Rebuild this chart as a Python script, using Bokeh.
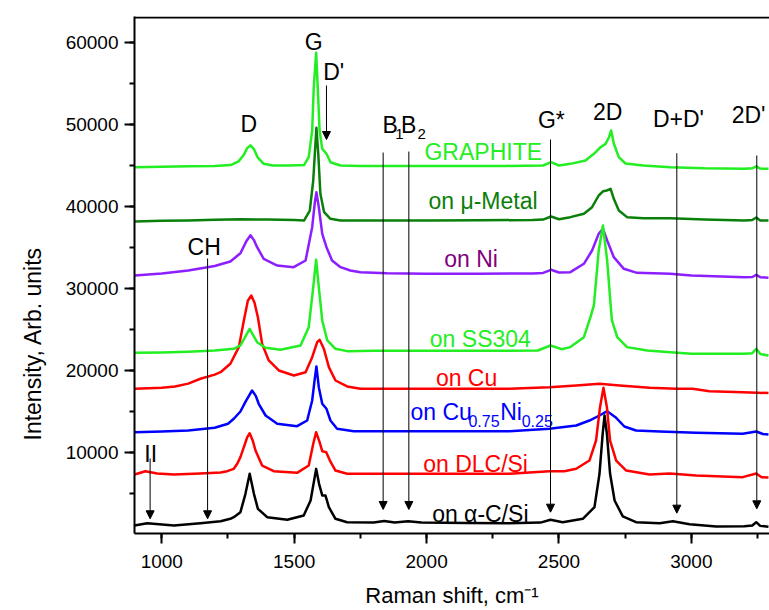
import math
from bokeh.plotting import figure
from bokeh.models import (Range1d, SingleIntervalTicker, Title, Span,
                          Arrow, NormalHead, ColumnDataSource)
from bokeh.core.properties import value
from bokeh.embed import file_html
from bokeh.resources import INLINE

FONT = "Liberation Sans"

# ---------------- data (Raman shift in cm^-1, intensity in arb. units) ----------------
graphite_x = [897, 1000, 1100, 1200, 1260, 1290, 1310, 1322, 1335, 1348, 1362, 1385, 1420, 1480, 1537, 1555, 1568, 1574, 1583, 1589,
              1596, 1606, 1622, 1637, 1675, 1750, 1900, 2100, 2300, 2440, 2470, 2500, 2543, 2600, 2632, 2657, 2676, 2689, 2697, 2707,
              2726, 2751, 2819, 2920, 3050, 3200, 3230, 3245, 3260, 3291]
graphite_y = [44790, 44850, 44900, 44950, 45050, 45500, 46300, 47100, 47450, 47000, 46000, 45200, 45000, 45000, 45050, 46010, 49270, 54550, 58750, 54550,
              49270, 47040, 46430, 45400, 45000, 44950, 44950, 44950, 44950, 45000, 45400, 45000, 45200, 45600, 46430, 47230, 47640, 48450, 49270, 47680,
              46010, 45240, 45000, 44790, 44650, 44600, 44650, 44900, 44620, 44600]

mumetal_x = [897, 1000, 1100, 1200, 1300, 1400, 1500, 1537, 1559, 1572, 1578, 1584, 1591, 1599, 1613, 1637, 1675, 1800, 2000, 2200,
             2400, 2440, 2470, 2500, 2543, 2594, 2625, 2650, 2667, 2680, 2695, 2707, 2726, 2757, 2820, 2920, 3050, 3200, 3230, 3245,
             3260, 3291]
mumetal_y = [38170, 38250, 38300, 38380, 38450, 38400, 38350, 38290, 39510, 43170, 46430, 49600, 46430, 41550, 39300, 38500, 38290, 38300, 38300, 38320,
             38350, 38400, 38780, 38450, 38700, 39110, 39910, 41340, 41870, 41950, 42160, 40940, 39510, 38700, 38580, 38580, 38400, 38290, 38350, 38660,
             38300, 38280]

ni_x = [897, 1000, 1100, 1200, 1259, 1297, 1320, 1335, 1348, 1360, 1385, 1436, 1498, 1543, 1568, 1578, 1584, 1593, 1606, 1622,
        1643, 1675, 1712, 1750, 1850, 2000, 2200, 2400, 2440, 2470, 2500, 2543, 2594, 2625, 2650, 2666, 2682, 2707, 2745, 2795,
        2920, 3000, 3200, 3230, 3245, 3260, 3291]
ni_y = [31590, 31830, 32200, 32750, 33300, 34300, 35800, 36490, 35900, 35040, 33620, 32800, 32600, 33410, 37480, 40500, 41750, 39910, 36670, 35040,
        33410, 32600, 32200, 31990, 31850, 31790, 31800, 31830, 31900, 32280, 31950, 31990, 33010, 34630, 36670, 37280, 35850, 33820, 32400, 31910,
        31790, 31590, 31380, 31400, 31650, 31380, 31320]

ss304_x = [897, 1000, 1100, 1200, 1272, 1297, 1315, 1332, 1345, 1360, 1392, 1448, 1524, 1555, 1572, 1583, 1593, 1606, 1625, 1656,
           1700, 1800, 2000, 2200, 2420, 2468, 2510, 2543, 2594, 2619, 2632, 2650, 2666, 2682, 2695, 2700, 2720, 2757, 2833, 2921,
           3000, 3200, 3230, 3245, 3260, 3291]
ss304_y = [22160, 22200, 22300, 22450, 22650, 23050, 24100, 25080, 24300, 23450, 22770, 22520, 23050, 25280, 30160, 33500, 30160, 26100, 23660, 22650,
           22360, 22400, 22400, 22400, 22440, 23050, 22600, 22850, 24060, 26500, 28000, 34630, 37680, 33410, 28000, 26100, 24060, 22850, 22440, 22230,
           22040, 22040, 22100, 22650, 22000, 21830]

cu_x = [897, 1000, 1050, 1100, 1146, 1200, 1222, 1259, 1291, 1310, 1325, 1338, 1350, 1363, 1379, 1404, 1442, 1499, 1543, 1568,
        1587, 1596, 1612, 1631, 1656, 1700, 1750, 1900, 2100, 2313, 2464, 2565, 2653, 2729, 2842, 2943, 3005, 3068, 3194, 3291]
cu_y = [17770, 17900, 18050, 18400, 18990, 19500, 19790, 20820, 22850, 26100, 28500, 29150, 28300, 26500, 23250, 21220, 20000, 19390, 19790, 21620,
        23450, 23740, 22650, 20410, 18780, 18050, 17770, 17760, 17760, 17770, 17960, 18170, 18380, 18170, 17890, 17770, 17770, 17480, 17360, 17240]

cuni_x = [897, 1000, 1100, 1200, 1250, 1272, 1297, 1318, 1341, 1355, 1366, 1392, 1436, 1511, 1549, 1568, 1577, 1584, 1593, 1606,
          1622, 1637, 1662, 1725, 1900, 2100, 2313, 2464, 2565, 2615, 2653, 2682, 2716, 2747, 2791, 2880, 3018, 3194, 3245, 3270,
          3291]
cuni_y = [12480, 12550, 12680, 13010, 13500, 14110, 15000, 16300, 17560, 16900, 15940, 14510, 13500, 13210, 13900, 16340, 18800, 20490, 17960, 15940,
          15330, 13900, 12890, 12600, 12600, 12600, 12600, 12890, 13290, 13900, 14510, 15040, 14230, 13170, 12680, 12560, 12400, 12280, 12560, 12250,
          12200]

dlc_x = [897, 938, 983, 1046, 1146, 1222, 1247, 1272, 1285, 1297, 1310, 1322, 1332, 1343, 1354, 1379, 1423, 1511, 1555, 1572,
         1583, 1596, 1606, 1621, 1635, 1656, 1700, 1900, 2100, 2313, 2464, 2520, 2565, 2615, 2640, 2655, 2668, 2681, 2693, 2716,
         2754, 2842, 2918, 3018, 3194, 3245, 3265, 3291]
dlc_y = [7320, 7720, 7440, 7320, 7440, 7560, 7720, 8010, 8620, 9430, 10650, 11800, 12350, 11500, 10240, 8410, 7720, 7520, 8410, 11060,
         12480, 11260, 10160, 10040, 9020, 7800, 7400, 7420, 7420, 7400, 7720, 7700, 8010, 9020, 11460, 15520, 17890, 15520, 11460, 9020,
         7800, 7320, 7440, 7200, 6990, 7440, 6990, 6950]

ac_x = [897, 945, 1046, 1146, 1222, 1259, 1272, 1297, 1316, 1332, 1348, 1363, 1398, 1474, 1536, 1562, 1583, 1594, 1606, 1618,
        1631, 1656, 1700, 1800, 1840, 1880, 1930, 1980, 2150, 2313, 2430, 2468, 2514, 2590, 2634, 2653, 2665, 2672, 2681, 2693,
        2710, 2741, 2791, 2880, 2930, 2993, 3094, 3200, 3230, 3245, 3260, 3291]
ac_y = [1100, 1380, 1100, 1380, 1620, 1910, 2110, 2720, 4960, 7400, 4960, 3130, 2110, 1790, 2320, 4150, 8000, 6180, 4760, 4760,
        3330, 1910, 1500, 1450, 1650, 1450, 1600, 1450, 1400, 1380, 1450, 1790, 1500, 1910, 3330, 7400, 12280, 14510, 12280, 7400,
        4150, 2200, 1500, 1380, 1620, 1260, 980, 1000, 1100, 1500, 1050, 930]

# peak-assignment labels
peak_text = ["D", "G", "D'", "G*", "2D", "D+D'", "2D'", "CH", "II"]
peak_x = [1329, 1574, 1649, 2471, 2684, 2951, 3216, 1160, 958]
peak_y = [50000, 60040, 56380, 50490, 51500, 50730, 51100, 35040, 9760]

# arrows (position, top, tip)
arrow_x = [956, 1173, 1622, 1836, 1933, 2468, 2945, 3247]
arrow_top = [9270, 33660, 54750, 46580, 46700, 48170, 46500, 46220]
arrow_tip = [1915, 1915, 48170, 3050, 3050, 2720, 2600, 3130]

# sample labels
sample_text = ["GRAPHITE", "on \u03bc-Metal", "on Ni", "on SS304", "on Cu", "on DLC/Si", "on \u03b1-C/Si"]
sample_x = [2214, 2213, 2168, 2203, 2151, 2185, 2203]
sample_y = [46620, 40730, 33620, 23860, 19110, 8620, 2520]

GREEN = "#22EE22"
DKGREEN = "#0A800A"
VIOLET = "#8C1EFF"
PURPLE = "#800080"
RED = "#FF0000"
BLUE = "#0000FF"
BLACK = "#000000"
sample_color = [GREEN, DKGREEN, PURPLE, GREEN, RED, RED, BLACK]

Y0, Y1 = 120, 63170

# ---------------- figure ----------------
p = figure(width=769, height=610, output_backend="svg", toolbar_location=None,
           x_range=Range1d(897, 3295), y_range=Range1d(Y0, Y1),
           min_border_left=134, min_border_right=0, min_border_top=16, min_border_bottom=77)
p.outline_line_color = None
p.grid.visible = False
p.background_fill_color = "white"
p.border_fill_color = "white"

for ax in (p.xaxis[0], p.yaxis[0]):
    ax.axis_line_width = 2
    ax.axis_line_color = "black"
    ax.major_tick_line_width = 2
    ax.minor_tick_line_width = 2
    ax.major_tick_out = 10
    ax.major_tick_in = 0
    ax.minor_tick_out = 5
    ax.minor_tick_in = 0
    ax.major_label_text_font = FONT
    ax.major_label_text_font_size = "19px"
    ax.major_label_text_color = "black"

p.xaxis.ticker = SingleIntervalTicker(interval=500, num_minor_ticks=2)
p.yaxis.ticker = SingleIntervalTicker(interval=10000, num_minor_ticks=2)
p.xaxis.major_label_standoff = 11
p.yaxis.major_label_standoff = 6
p.xaxis.axis_label = "Raman shift, cm\u207b\u00b9"
p.xaxis.axis_label_text_font = FONT
p.xaxis.axis_label_text_font_size = "22px"
p.xaxis.axis_label_text_font_style = "normal"
p.xaxis.axis_label_text_color = "black"
p.xaxis.axis_label_standoff = 12

# top frame border
p.add_layout(Span(location=Y1 - 120, dimension="width", line_color="black", line_width=2))

# y axis title
p.add_layout(Title(text="Intensity, Arb. units", align="left", offset=93, standoff=34,
                   text_font=FONT, text_font_size="23px", text_font_style="normal",
                   text_color="black"), "left")

series = [(graphite_x, graphite_y, GREEN), (mumetal_x, mumetal_y, DKGREEN), (ni_x, ni_y, VIOLET),
          (cu_x, cu_y, RED), (cuni_x, cuni_y, BLUE), (dlc_x, dlc_y, RED), (ss304_x, ss304_y, GREEN),
          (ac_x, ac_y, BLACK)]
for xs, ys, c in series:
    p.line(xs, ys, line_color=c, line_width=2.5, line_join="round")

arr_src = ColumnDataSource(dict(x=arrow_x, y0=arrow_top, y1=arrow_tip))
p.add_layout(Arrow(x_start="x", y_start="y0", x_end="x", y_end="y1", source=arr_src,
                   line_color="black", line_width=1,
                   end=NormalHead(size=8, fill_color="black", line_color="black", line_width=1)))

p.text(x=peak_x, y=peak_y, text=peak_text, text_font=value(FONT), text_font_size=value("23px"),
       text_align="center", text_baseline="alphabetic", text_color="black")

# B1 B2 with subscripts
p.text(x=[1834, 1903], y=[49880, 49880], text=["B", "B"], text_font=value(FONT),
       text_font_size=value("23px"), text_align="left", text_baseline="alphabetic", text_color="black")
p.text(x=[1882, 1966], y=[48900, 48900], text=["1", "2"], text_font=value(FONT),
       text_font_size=value("15px"), text_align="left", text_baseline="alphabetic", text_color="black")

smp_src = ColumnDataSource(dict(x=sample_x, y=sample_y, t=sample_text, c=sample_color))
p.text(x="x", y="y", text="t", text_color="c", source=smp_src, text_font=value(FONT),
       text_font_size=value("23px"), text_align="center", text_baseline="alphabetic")

# on Cu0.75Ni0.25
p.text(x=[1939, 2278], y=[14915, 14915], text=["on Cu", "Ni"], text_font=value(FONT),
       text_font_size=value("23px"), text_align="left", text_baseline="alphabetic", text_color=BLUE)
p.text(x=[2158, 2359], y=[13800, 13800], text=["0.75", "0.25"], text_font=value(FONT),
       text_font_size=value("16px"), text_align="left", text_baseline="alphabetic", text_color=BLUE)

open("out.html", "w").write(file_html(p, INLINE))
